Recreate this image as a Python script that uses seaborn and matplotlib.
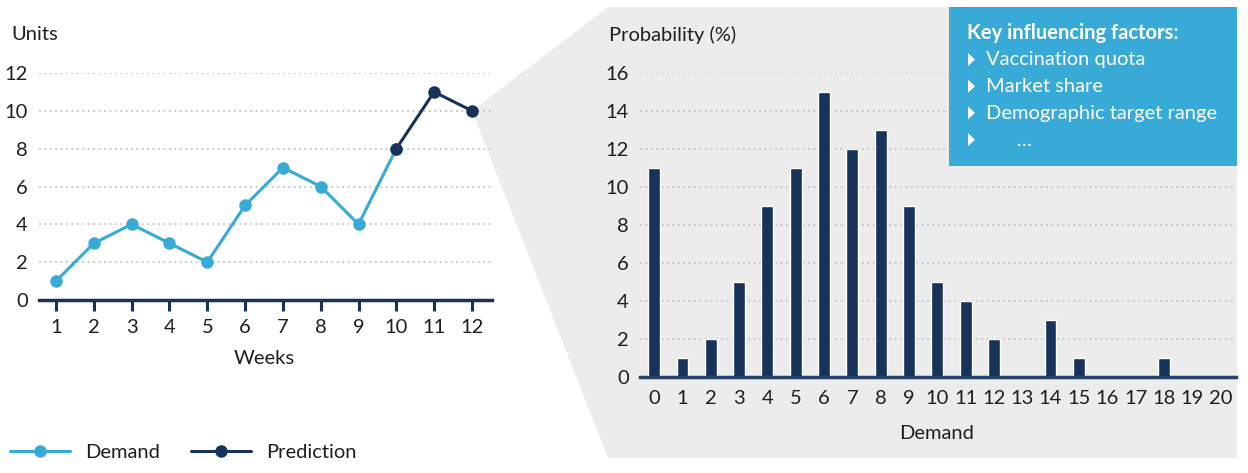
import matplotlib
matplotlib.use("Agg")
import matplotlib.pyplot as plt
import matplotlib.patches as mpatches
from matplotlib.lines import Line2D
import numpy as np
import pandas as pd
import seaborn as sns

# Weekly demand history and the forecast continuation
demand_weeks = [1, 2, 3, 4, 5, 6, 7, 8, 9, 10]
demand_units = [1, 3, 4, 3, 2, 5, 7, 6, 4, 8]
pred_weeks = [10, 11, 12]
pred_units = [8, 11, 10]

# Probability distribution of demand for the forecast week
demand_levels = list(range(21))
probability = [11, 1, 2, 5, 9, 11, 15, 12, 13, 9, 5, 4, 2, 0, 3, 1, 0, 0, 1, 0, 0]

factors_title = "Key influencing factors:"
factors = ["Vaccination quota", "Market share", "Demographic target range", "      …"]

LIGHT = "#38aad7"
NAVY = "#17335a"
GREY_BG = "#ececec"
TEXT = "#1e1e1e"
FS = 14.5

sns.set_theme(style="white")
plt.rcParams["font.family"] = ["Lato", "DejaVu Sans"]
plt.rcParams["text.color"] = TEXT

W, H = 1248, 473
fig = plt.figure(figsize=(W / 100, H / 100), dpi=100)


def fx(px):
    return px / W


def fy(py):
    return 1 - py / H


# ---- left: demand line chart ----
ax1 = fig.add_axes([fx(39), fy(300), fx(492) - fx(39), fy(73) - fy(300)])
ax1.set_facecolor("none")
df_d = pd.DataFrame({"week": demand_weeks, "units": demand_units})
df_p = pd.DataFrame({"week": pred_weeks, "units": pred_units})
sns.lineplot(data=df_d, x="week", y="units", ax=ax1, color=LIGHT, lw=2.2,
             marker="o", markersize=9, markeredgewidth=0, zorder=3)
sns.lineplot(data=df_p, x="week", y="units", ax=ax1, color=NAVY, lw=2.2,
             marker="o", markersize=9, markeredgewidth=0, zorder=4)
ax1.set_xlim(0.55, 12.53)
ax1.set_ylim(0, 12)
ax1.set_xticks(demand_weeks + pred_weeks[1:])
ax1.set_yticks(range(0, 13, 2))
ax1.yaxis.grid(True, ls=(0, (1, 2)), color="#c4c4c4", lw=1.3)
ax1.set_axisbelow(True)
for s in ["top", "right", "left"]:
    ax1.spines[s].set_visible(False)
ax1.spines["bottom"].set_color(NAVY)
ax1.spines["bottom"].set_linewidth(2.5)
ax1.tick_params(axis="x", length=8, width=2.2, color=NAVY, pad=5.5,
                labelsize=FS, labelcolor=TEXT, bottom=True)
ax1.tick_params(axis="y", length=0, pad=8, labelsize=FS, labelcolor=TEXT)
ax1.set_xlabel("")
ax1.set_ylabel("")
fig.text(fx(11), fy(35), "Units", fontsize=FS, va="center", ha="left")
fig.text(fx(264), fy(358), "Weeks", fontsize=FS, va="center", ha="center")

# ---- grey zoom panel linking the last forecast point to the distribution ----
fig.canvas.draw()
vx, vy = fig.transFigure.inverted().transform(
    ax1.transData.transform((pred_weeks[-1], pred_units[-1])))
panel = mpatches.Polygon(
    [(vx, vy), (fx(608), fy(7)), (fx(1237), fy(7)), (fx(1237), fy(458)),
     (fx(608), fy(458))],
    closed=True, transform=fig.transFigure, facecolor=GREY_BG,
    edgecolor="none", zorder=-1)
fig.add_artist(panel)

# ---- right: probability bar chart ----
ax2 = fig.add_axes([fx(640), fy(377), fx(1236) - fx(640), fy(73) - fy(377)])
ax2.set_facecolor("none")
df_b = pd.DataFrame({"demand": demand_levels, "prob": probability})
sns.barplot(data=df_b, x="demand", y="prob", ax=ax2, color=NAVY,
            saturation=1, width=0.42, order=demand_levels, zorder=3)
ax2.set_xlim(-0.5, 20.55)
ax2.set_ylim(0, 16)
ax2.set_yticks(range(0, 17, 2))
ax2.yaxis.grid(True, ls=(0, (1, 2)), color="#c4c4c4", lw=1.3)
ax2.set_axisbelow(True)
for s in ["top", "right", "left"]:
    ax2.spines[s].set_visible(False)
ax2.spines["bottom"].set_color("#24426b")
ax2.spines["bottom"].set_linewidth(2.5)
ax2.spines["bottom"].set_zorder(4)
ax2.tick_params(axis="x", length=0, pad=9.5, labelsize=FS, labelcolor=TEXT)
ax2.tick_params(axis="y", length=0, pad=8, labelsize=FS, labelcolor=TEXT)
ax2.set_xlabel("")
ax2.set_ylabel("")
fig.text(fx(609), fy(35), "Probability (%)", fontsize=FS, va="center", ha="left")
fig.text(fx(937), fy(433), "Demand", fontsize=FS, va="center", ha="center")

# ---- key factors box ----
box = mpatches.Rectangle((fx(949), fy(166)), fx(1237) - fx(949), fy(7) - fy(166),
                         transform=fig.transFigure, facecolor=LIGHT,
                         edgecolor="none", zorder=5)
fig.add_artist(box)
fig.text(fx(967), fy(33), factors_title, fontsize=FS, fontweight="bold",
         color="white", va="center", ha="left", zorder=6)
for i, item in enumerate(factors):
    yc = 60 + i * 26.7
    tri = mpatches.Polygon([(fx(968), fy(yc - 7)), (fx(968), fy(yc + 6)),
                            (fx(975), fy(yc - 0.5))], closed=True,
                           transform=fig.transFigure, facecolor="white",
                           edgecolor="none", zorder=6)
    fig.add_artist(tri)
    fig.text(fx(986), fy(yc), item, fontsize=FS, color="white",
             va="center", ha="left", zorder=6)

# ---- legend ----
handles = [
    Line2D([], [], color=LIGHT, lw=2.2, marker="o", markersize=9, markeredgewidth=0),
    Line2D([], [], color=NAVY, lw=2.2, marker="o", markersize=9, markeredgewidth=0),
]
fig.legend(handles, ["Demand", "Prediction"], loc="center left",
           bbox_to_anchor=(fx(2), fy(452)), borderaxespad=0, ncol=2,
           frameon=False, fontsize=FS, handlelength=3.0, handletextpad=0.75,
           columnspacing=1.5)

fig.savefig("out.png", dpi=100)
